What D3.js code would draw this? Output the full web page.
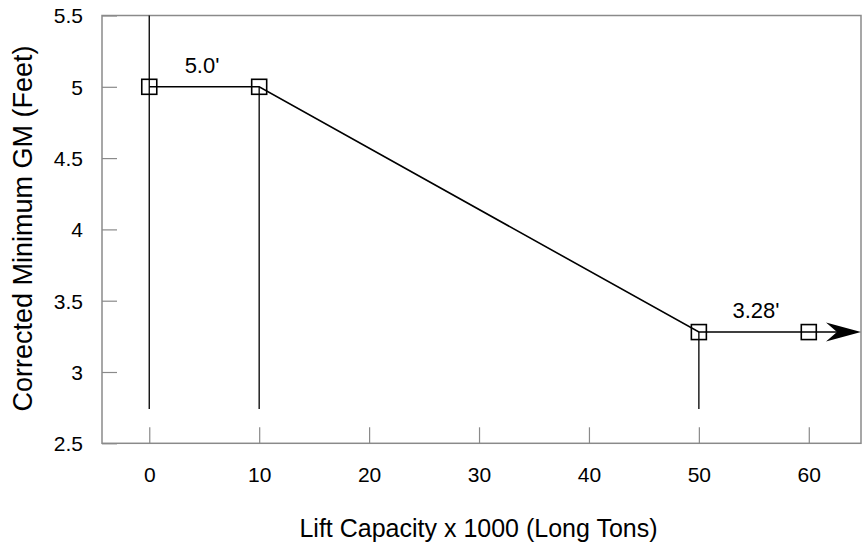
<!DOCTYPE html>
<html><head><meta charset="utf-8">
<script src="https://cdn.jsdelivr.net/npm/d3@7"></script>
<style>body{margin:0;background:#fff}svg{display:block}text{font-family:"Liberation Sans",Arial,sans-serif;fill:#000}</style>
</head><body><svg id="c" width="862" height="543"></svg>
<script>
const capacity = [0, 10, 50, 60];
const minGM = [5.0, 5.0, 3.28, 3.28];
const dropLines = [{x:0, top:5.5}, {x:10, top:5.0}, {x:50, top:3.28}];
const dropBottom = 2.74;
const xTicks = [0, 10, 20, 30, 40, 50, 60];
const yTicks = [2.5, 3, 3.5, 4, 4.5, 5, 5.5];
const annotations = [{x:4.8, y:5.0, text:"5.0'"}, {x:55.2, y:3.28, text:"3.28'"}];
const arrowEnd = 64.75;

const svg = d3.select("#c");
const x = d3.scaleLinear().domain([-4.3, 64.75]).range([102, 861]);
const y = d3.scaleLinear().domain([2.5, 5.5]).range([443.3, 15.5]);

// frame
svg.append("rect").attr("x", x(-4.3)).attr("y", y(5.5))
  .attr("width", x(64.75)-x(-4.3)).attr("height", y(2.5)-y(5.5))
  .attr("fill","none").attr("stroke","#8a8a8a").attr("stroke-width",1.5);

// axes with inward ticks
const xAxis = d3.axisBottom(x).tickValues(xTicks).tickSize(-16).tickPadding(0).tickFormat(d3.format("d"));
const gx = svg.append("g").attr("transform",`translate(0,${y(2.5)})`).call(xAxis);
gx.select(".domain").remove();
gx.selectAll(".tick line").attr("stroke","#8a8a8a").attr("stroke-width",1.2);
gx.selectAll(".tick text").attr("font-size",21).attr("y",39).attr("dy",0).attr("font-family","Liberation Sans, Arial, sans-serif").attr("fill","#000");

const yAxis = d3.axisLeft(y).tickValues(yTicks).tickSize(-15).tickPadding(0).tickFormat(d => d3.format("")(d));
const gy = svg.append("g").attr("transform",`translate(${x(-4.3)},0)`).call(yAxis);
gy.select(".domain").remove();
gy.selectAll(".tick line").attr("stroke","#8a8a8a").attr("stroke-width",1.2);
gy.selectAll(".tick text").attr("font-size",21).attr("x",-19).attr("dy","0.35em").attr("font-family","Liberation Sans, Arial, sans-serif").attr("fill","#000");

// drop lines
svg.selectAll(".drop").data(dropLines).enter().append("line")
  .attr("x1", d=>x(d.x)).attr("x2", d=>x(d.x))
  .attr("y1", d=>y(d.top)).attr("y2", y(dropBottom))
  .attr("stroke","#111").attr("stroke-width",1.4);

// data line
const pts = capacity.map((c,i)=>[c, minGM[i]]);
svg.append("path").datum(pts.concat([[arrowEnd-2, minGM[minGM.length-1]]]))
  .attr("d", d3.line().x(d=>x(d[0])).y(d=>y(d[1])))
  .attr("fill","none").attr("stroke","#000").attr("stroke-width",1.6);

// arrowhead
const ay = y(minGM[minGM.length-1]);
const tip = x(arrowEnd);
svg.append("path")
  .attr("d", `M${tip},${ay} L${tip-35},${ay-9.5} L${tip-24},${ay} L${tip-35},${ay+9.5} Z`)
  .attr("fill","#000");

// markers
svg.selectAll(".m").data(pts).enter().append("rect")
  .attr("x", d=>x(d[0])-7.5).attr("y", d=>y(d[1])-7.5)
  .attr("width",15).attr("height",15)
  .attr("fill","none").attr("stroke","#000").attr("stroke-width",1.6);

// annotations
svg.selectAll(".ann").data(annotations).enter().append("text")
  .attr("x", d=>x(d.x)).attr("y", d=>y(d.y)-14)
  .attr("text-anchor","middle").attr("font-size",22).text(d=>d.text);

// titles
svg.append("text").attr("x", 478.5).attr("y", 537).attr("text-anchor","middle")
  .attr("font-size",25).text("Lift Capacity x 1000 (Long Tons)");
svg.append("text").attr("transform","translate(32,228.5) rotate(-90)").attr("text-anchor","middle")
  .attr("font-size",27).text("Corrected Minimum GM (Feet)");
</script></body></html>
